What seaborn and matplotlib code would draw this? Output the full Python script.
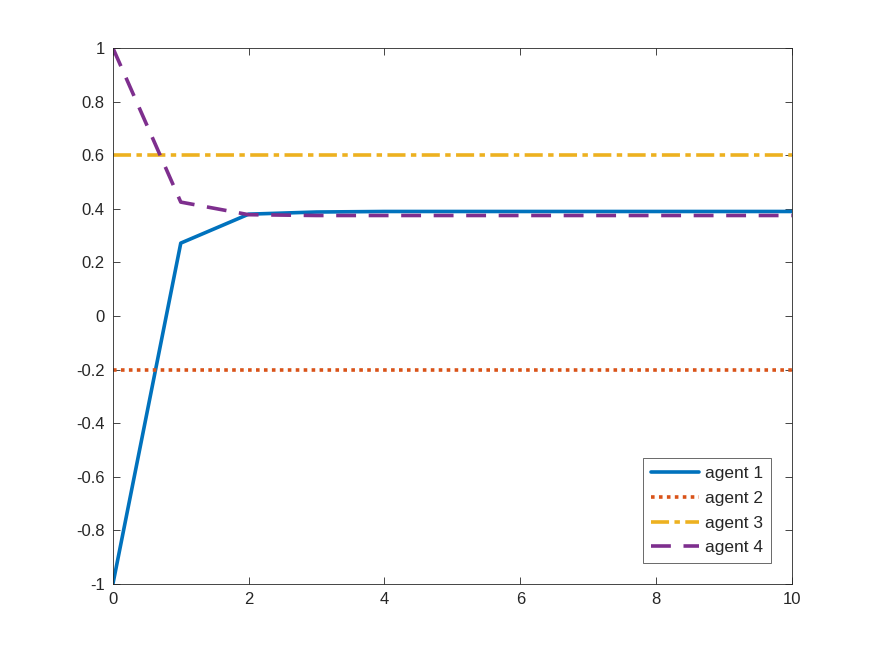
import numpy as np
import pandas as pd
import matplotlib
matplotlib.use("Agg")
import matplotlib.pyplot as plt
import seaborn as sns

# iterations and agent states
steps = list(range(11))
agent1 = [-1.0, 0.272, 0.380, 0.388, 0.390, 0.390, 0.390, 0.390, 0.390, 0.390, 0.390]
agent2 = [-0.2] * 11
agent3 = [0.6] * 11
agent4 = [1.0, 0.425, 0.378, 0.375, 0.375, 0.375, 0.375, 0.375, 0.375, 0.375, 0.375]

labels = ["agent 1", "agent 2", "agent 3", "agent 4"]
colors = ["#0072BD", "#D95319", "#EDB120", "#7E2F8E"]
dashes = [(None, None), (1, 1.2), (5, 1.5, 1.5, 1.5), (5.5, 3.5)]

df = pd.DataFrame({"step": steps, "agent 1": agent1, "agent 2": agent2,
                   "agent 3": agent3, "agent 4": agent4})
long = df.melt(id_vars="step", var_name="agent", value_name="state")

sns.set_style("ticks")
plt.rcParams["font.family"] = ["Liberation Sans", "DejaVu Sans"]

fig = plt.figure(figsize=(8.75, 6.57), dpi=100)
ax = fig.add_axes([0.129, 0.111, 0.776, 0.816])

for lab, col, dsh in zip(labels, colors, dashes):
    sub = long[long["agent"] == lab]
    sns.lineplot(data=sub, x="step", y="state", ax=ax, color=col,
                 linewidth=2.6, label=lab)
    l = ax.get_lines()[-1]
    if dsh[0] is not None:
        l.set_dashes(dsh)

ax.set_xlim(0, 10)
ax.set_ylim(-1, 1)
ax.set_xticks([0, 2, 4, 6, 8, 10])
ax.set_yticks(np.round(np.arange(-1, 1.01, 0.2), 1))
ax.set_yticklabels(["-1", "-0.8", "-0.6", "-0.4", "-0.2", "0", "0.2", "0.4", "0.6", "0.8", "1"])
ax.set_xlabel("")
ax.set_ylabel("")
ax.tick_params(direction="in", top=True, right=True, length=5, width=0.6,
               labelsize=12, colors="#262626", pad=6)
for s in ax.spines.values():
    s.set_visible(True)
    s.set_linewidth(0.6)
    s.set_color("#262626")

leg = ax.legend(loc="lower right", bbox_to_anchor=(0.969, 0.039), fontsize=12.5,
                frameon=True, fancybox=False, edgecolor="#262626",
                handlelength=2.75, borderpad=0.45, labelspacing=0.55,
                handletextpad=0.35, borderaxespad=0.0)
leg.get_frame().set_linewidth(0.6)

fig.savefig("out.png", dpi=100)
